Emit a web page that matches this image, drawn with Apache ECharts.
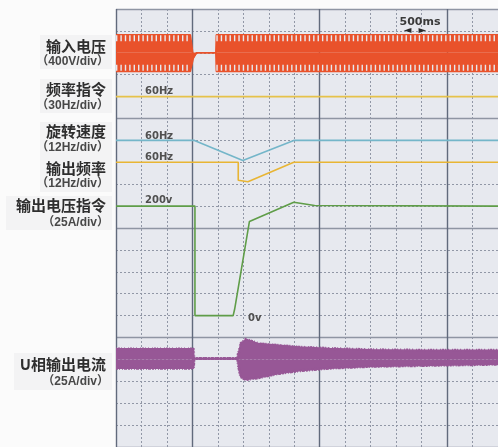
<!DOCTYPE html>
<html>
<head>
<meta charset="utf-8">
<script src="https://cdn.jsdelivr.net/npm/echarts@6/dist/echarts.min.js"></script>
<style>
  html, body { margin: 0; padding: 0; background: #fbfbfb; }
  #chart { width: 498px; height: 447px; }
</style>
</head>
<body>
<div id="chart"></div>
<script>
// time base: seconds, 500 ms per minor division
const xMin = -1.5;
const xMax = 6.0;
const minorStepX = 0.5;
const majorTicksX = [-1.5, 0, 2.5, 5];
// vertical divisions of the screen
const divMin = -5;
const divMax = 15;

// input voltage envelope (V)
const vinTime = [-1.5, -0.04, 0.02, 0.08, 0.46, 0.47, 6.0];
const vinUpper = [330, 330, -90, 0, 0, 330, 330];
const vinLower = [-340, -340, -90, 0, 0, -340, -340];

// frequency command (Hz)
const freqCmdTime = [-1.5, 6.0];
const freqCmdHz = [60, 60];

// rotation speed (Hz)
const speedTime = [-1.5, 0.04, 0.99, 1.99, 6.0];
const speedHz = [60, 60, 49, 60, 60];

// output frequency (Hz)
const outFreqTime = [-1.5, 0.9, 0.9, 1.09, 1.99, 6.0];
const outFreqHz = [60, 60, 50.2, 49.3, 60, 60];

// output voltage command (V)
const voltCmdTime = [-1.5, 0.05, 0.05, 0.8, 0.83, 1.12, 1.99, 2.4, 6.0];
const voltCmdV = [200, 200, 0, 0, 12, 172, 207, 201, 200];

// U phase output current envelope (A)
const iuTime = [-1.5, 0.02, 0.03, 0.89, 0.9, 0.95, 1.05, 1.3, 1.7, 2.1, 2.7, 3.5, 4.5, 6.0];
const iuUpper = [12, 12, 1, 1, 6, 18, 23, 18, 16, 14, 12.5, 11, 10.5, 10.5];
const iuLower = [-10, -10, 1, 1, -6, -20, -23, -21, -16, -13, -10, -8, -7, -5.5];

// scope channel settings: zero position (div) and units per div
const channels = {
  vin: { offset: 13, perDiv: 400 },
  freqCmd: { offset: 9, perDiv: 30 },
  speed: { offset: 4, perDiv: 12 },
  outFreq: { offset: 3, perDiv: 12 },
  voltCmd: { offset: 1, perDiv: 40 },
  iu: { offset: -1, perDiv: 25 }
};
const channelKeys = Object.keys(channels);

// left side captions: name, unit
const captions = [
  ['输入电压', '（400V/div）'],
  ['频率指令', '（30Hz/div）'],
  ['旋转速度', '（12Hz/div）'],
  ['输出频率', '（12Hz/div）'],
  ['输出电压指令', '（25A/div）'],
  ['U相输出电流', '（25A/div）']
];
const captionY = [[46.5, 62], [89.5, 105.5], [131.5, 147.5], [168.5, 184], [205.5, 223], [364, 382]];

const colors = {
  vin: '#e9522b',
  freqCmd: '#e6c24a',
  speed: '#74b6c9',
  outFreq: '#e8b534',
  voltCmd: '#5f9d48',
  iu: '#975796',
  bg: '#e7e9ef'
};

const zip = (xs, ys) => xs.map((x, i) => [x, ys[i]]);

function channelAxis(key) {
  const c = channels[key];
  return {
    type: 'value',
    show: false,
    min: (divMin - c.offset) * c.perDiv,
    max: (divMax - c.offset) * c.perDiv,
    splitLine: { show: false }
  };
}

function trace(key, data, extra) {
  return Object.assign({
    type: 'line',
    xAxisIndex: 0,
    yAxisIndex: 2 + channelKeys.indexOf(key),
    data: data,
    symbol: 'none',
    silent: true,
    animation: false,
    lineStyle: { color: colors[key], width: 1.6 },
    z: 5
  }, extra || {});
}

// teeth of the rectified input band: only where the band is wide
const teeth = (ys) => ys.map((v) => (Math.abs(v) > 150 ? v * 0.8 : null));

const chart = echarts.init(document.getElementById('chart'), null, { renderer: 'canvas' });

const gridBox = { left: 116, top: 9, width: 388.5, height: 442 };

// faint backing boxes behind caption groups
const captionBoxes = [[40, 35, 72, 34], [40, 79, 72, 34], [40, 122, 72, 70], [6, 196, 106, 34], [14, 353, 98, 37]];

const option = {
  backgroundColor: '#fbfbfb',
  animation: false,
  grid: Object.assign({ show: true, backgroundColor: colors.bg, borderWidth: 0, containLabel: false }, gridBox),
  xAxis: [
    {
      type: 'value', min: xMin, max: xMax, interval: minorStepX,
      axisLine: { show: false }, axisTick: { show: false }, axisLabel: { show: false },
      splitLine: { show: true, lineStyle: { color: '#9197a6', width: 1, type: [2, 2] } }
    },
    {
      type: 'value', min: xMin, max: xMax,
      axisLine: { show: false },
      axisTick: { show: false, customValues: majorTicksX },
      axisLabel: { show: false },
      splitLine: { show: true, lineStyle: { color: '#616a7c', width: 1.4 } }
    }
  ],
  yAxis: [
    {
      type: 'value', min: divMin, max: divMax, interval: 1,
      axisLine: { show: false }, axisTick: { show: false }, axisLabel: { show: false },
      splitLine: { show: true, lineStyle: { color: '#9197a6', width: 1, type: [2, 2] } }
    },
    {
      type: 'value', min: divMin, max: divMax, interval: 5,
      axisLine: { show: false }, axisTick: { show: false }, axisLabel: { show: false },
      splitLine: { show: true, lineStyle: { color: '#8f95a3', width: 1.3 } }
    }
  ].concat(channelKeys.map(channelAxis)),
  series: [
    trace('vin', zip(vinTime, vinUpper), { areaStyle: { color: colors.vin, opacity: 1, origin: 0 } }),
    trace('vin', zip(vinTime, vinLower), { areaStyle: { color: colors.vin, opacity: 1, origin: 0 } }),
    trace('vin', zip(vinTime, teeth(vinUpper)), { lineStyle: { color: colors.bg, width: 6, type: [1.4, 3] }, z: 6 }),
    trace('vin', zip(vinTime, teeth(vinLower)), { lineStyle: { color: colors.bg, width: 6, type: [1.4, 3] }, z: 6 }),
    trace('freqCmd', zip(freqCmdTime, freqCmdHz)),
    trace('speed', zip(speedTime, speedHz)),
    trace('outFreq', zip(outFreqTime, outFreqHz)),
    trace('voltCmd', zip(voltCmdTime, voltCmdV)),
    trace('iu', zip(iuTime, iuUpper), { areaStyle: { color: colors.iu, opacity: 1, origin: 0 } }),
    trace('iu', zip(iuTime, iuLower), { areaStyle: { color: colors.iu, opacity: 1, origin: 0 } }),
    trace('iu', zip(iuTime, iuUpper), { lineStyle: { color: colors.iu, width: 3, type: [1, 1, 2, 1, 1, 2, 1, 3] }, z: 6 }),
    trace('iu', zip(iuTime, iuLower), { lineStyle: { color: colors.iu, width: 3, type: [2, 1, 1, 2, 1, 1, 3, 1] }, z: 6 })
  ],
  graphic: [
    ...captionBoxes.map(([x, y, w, h]) => ({
      type: 'rect', z: 1, shape: { x: x, y: y, width: w, height: h },
      style: { fill: '#f3f3f4' }
    })),
    ...captions.flatMap(([name, unit], i) => [
      {
        type: 'text', x: 106, y: captionY[i][0], z: 10,
        style: { text: name, fill: '#2e2e2e', font: 'bold 15px "Noto Sans CJK SC"', align: 'right', verticalAlign: 'middle' }
      },
      {
        type: 'text', x: 109, y: captionY[i][1], z: 10,
        style: { text: unit, fill: '#484848', font: 'bold 12px "Liberation Sans", "Noto Sans CJK SC"', align: 'right', verticalAlign: 'middle' }
      }
    ]),
    // in-screen markers
    ...[
      ['60Hz', 145, 91.5],
      ['60Hz', 145, 136.5],
      ['60Hz', 145, 157.5],
      ['200v', 145, 200.5],
      ['0v', 248, 318]
    ].map(([t, x, y]) => ({
      type: 'text', x: x, y: y, z: 10,
      style: { text: t, fill: '#505050', font: 'bold 10px "DejaVu Sans"', align: 'left', verticalAlign: 'middle' }
    })),
    {
      type: 'text', x: 420, y: 22, z: 10,
      style: { text: '500ms', fill: '#3a3a3a', font: 'bold 11px "DejaVu Sans"', align: 'center', verticalAlign: 'middle' }
    },
    {
      type: 'text', x: 415, y: 30, z: 10,
      style: { text: '◄  ►', fill: '#2a2a2a', font: 'bold 10px "DejaVu Sans"', align: 'center', verticalAlign: 'middle' }
    }
  ]
};

chart.setOption(option);
</script>
</body>
</html>
